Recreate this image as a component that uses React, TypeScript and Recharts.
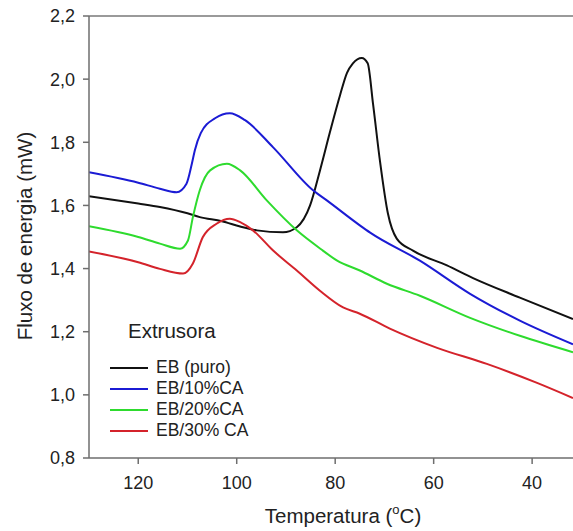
import { Legend, Line, LineChart, ReferenceLine, XAxis, YAxis } from "recharts";

const FONT = '"Liberation Sans", Arial, sans-serif';

const xTicks = [120, 100, 80, 60, 40];
const yTicks = [0.8, 1.0, 1.2, 1.4, 1.6, 1.8, 2.0, 2.2];

// EB (puro)
const puroTemp = [130, 120, 115.6, 110, 107.5, 103, 99.3, 95.9, 90.6, 87.8, 85.1, 83.1, 81.1, 79, 77.6, 76.4, 74.6, 73.4, 72.3, 70.9, 69.3, 67.5, 64.2, 57.3, 52, 42.5, 31.7];
const puroFlux = [1.629, 1.606, 1.595, 1.575, 1.563, 1.55, 1.533, 1.521, 1.515, 1.531, 1.6, 1.71, 1.83, 1.95, 2.02, 2.05, 2.067, 2.05, 1.92, 1.74, 1.575, 1.495, 1.457, 1.41, 1.37, 1.308, 1.24];

// EB/10%CA
const ca10Temp = [130, 120, 115.6, 112.2, 110.2, 109.1, 108.5, 107.3, 104.4, 101.4, 98.3, 92.6, 84.5, 81.7, 75, 72.9, 62.8, 52.6, 42.5, 31.7];
const ca10Flux = [1.705, 1.672, 1.653, 1.642, 1.669, 1.733, 1.775, 1.829, 1.876, 1.892, 1.87, 1.784, 1.648, 1.616, 1.537, 1.514, 1.425, 1.32, 1.235, 1.16];

// EB/20%CA
const ca20Temp = [130, 120, 115.6, 111.5, 109.9, 108.9, 107.5, 105.4, 102, 99.3, 93.9, 87.8, 82.5, 79.6, 75, 69.5, 62.8, 52.6, 42.5, 31.7];
const ca20Flux = [1.534, 1.5, 1.479, 1.463, 1.489, 1.563, 1.648, 1.711, 1.732, 1.711, 1.616, 1.521, 1.457, 1.425, 1.394, 1.352, 1.314, 1.244, 1.187, 1.135];

// EB/30% CA
const ca30Temp = [130, 120, 115.6, 110.9, 108.9, 106.9, 104.1, 101.4, 99.3, 96.7, 92.6, 87.8, 83.1, 78.4, 75, 68.9, 59.3, 49.2, 39, 31.7];
const ca30Flux = [1.454, 1.42, 1.399, 1.384, 1.416, 1.499, 1.542, 1.558, 1.547, 1.521, 1.457, 1.394, 1.33, 1.277, 1.257, 1.21, 1.149, 1.098, 1.038, 0.99];

const toPoints = (temp: number[], flux: number[]) =>
  temp.map((t, i) => ({ temp: t, flux: flux[i] }));

const series = [
  { name: "EB (puro)", color: "#111111", data: toPoints(puroTemp, puroFlux) },
  { name: "EB/10%CA", color: "#1b1bd4", data: toPoints(ca10Temp, ca10Flux) },
  { name: "EB/20%CA", color: "#2edb2e", data: toPoints(ca20Temp, ca20Flux) },
  { name: "EB/30% CA", color: "#d4232b", data: toPoints(ca30Temp, ca30Flux) },
];

const fmt = (v: number) => v.toFixed(1).replace(".", ",");

const XLabel = (props: any) => {
  const vb = props.viewBox;
  return (
    <text
      x={vb.x + vb.width / 2 + 12}
      y={vb.y + 65}
      textAnchor="middle"
      fontSize={20.5}
      fontFamily={FONT}
      fill="#222"
    >
      Temperatura (
      <tspan fontSize={13} dy={-9}>
        o
      </tspan>
      <tspan dy={9}>C)</tspan>
    </text>
  );
};

const YLabel = (props: any) => {
  const vb = props.viewBox;
  const cy = vb.y + vb.height / 2 - 1;
  return (
    <text
      x={32}
      y={cy}
      transform={`rotate(-90, 32, ${cy})`}
      textAnchor="middle"
      fontSize={20.5}
      fontFamily={FONT}
      fill="#222"
    >
      Fluxo de energia (mW)
    </text>
  );
};

const LegendBox = ({ payload }: any) => (
  <div style={{ fontFamily: FONT, color: "#222" }}>
    <div style={{ fontSize: 20.5, marginLeft: 20, marginBottom: 14, lineHeight: "24px" }}>
      Extrusora
    </div>
    {(payload || []).map((item: any) => (
      <div
        key={item.value}
        style={{ display: "flex", alignItems: "center", height: 21, fontSize: 17.5 }}
      >
        <svg width={48} height={4}>
          <line x1={2} y1={2} x2={40} y2={2} stroke={item.color} strokeWidth={2} />
        </svg>
        <span>{item.value}</span>
      </div>
    ))}
  </div>
);

export default function App() {
  return (
    <div style={{ position: "absolute", left: 0, top: 0, background: "#fff" }}>
      <LineChart
        width={573}
        height={531}
        margin={{ top: 16, right: 0, bottom: 0, left: 0 }}
      >
        <XAxis
          type="number"
          dataKey="temp"
          domain={[31.7, 130]}
          reversed
          allowDataOverflow
          ticks={xTicks}
          height={73}
          tickSize={6}
          tickMargin={12}
          stroke="#6e6e6e"
          strokeWidth={1.5}
          tick={{ fill: "#222", fontSize: 18, fontFamily: FONT }}
          label={XLabel}
        />
        <YAxis
          type="number"
          domain={[0.8, 2.2]}
          ticks={yTicks}
          width={89}
          tickSize={6}
          tickMargin={8}
          tickFormatter={fmt}
          stroke="#6e6e6e"
          strokeWidth={1.5}
          tick={{ fill: "#222", fontSize: 18, fontFamily: FONT }}
          label={YLabel}
        />
        <ReferenceLine y={2.2} stroke="#9a9a9a" strokeWidth={2} />
        {series.map((s) => (
          <Line
            key={s.name}
            name={s.name}
            data={s.data}
            dataKey="flux"
            type="monotone"
            stroke={s.color}
            strokeWidth={2}
            dot={false}
            activeDot={false}
            isAnimationActive={false}
          />
        ))}
        <Legend
          layout="vertical"
          align="center"
          verticalAlign="middle"
          content={LegendBox}
          wrapperStyle={{ position: "absolute", left: 108, top: 319, width: 220, height: "auto" }}
        />
      </LineChart>
    </div>
  );
}
